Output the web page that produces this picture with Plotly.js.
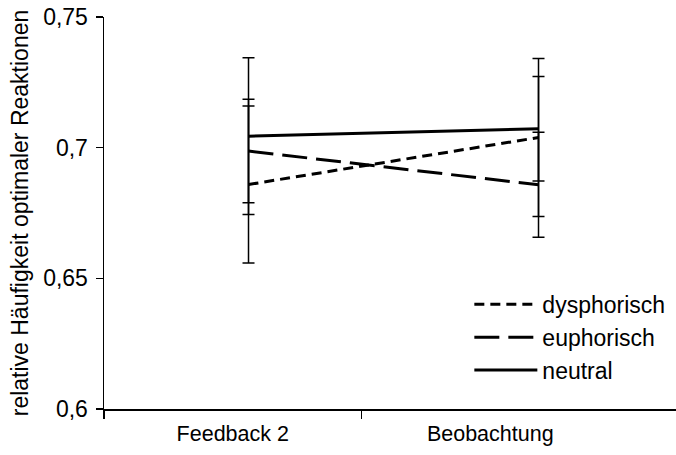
<!DOCTYPE html>
<html>
<head>
<meta charset="utf-8">
<script src="https://cdn.plot.ly/plotly-3.0.1.min.js"></script>
<style>html,body{margin:0;padding:0;background:#fff;}#chart{width:676px;height:455px;}</style>
</head>
<body>
<div id="chart"></div>
<script>
// Data
const categories = ["Feedback 2", "Beobachtung"];
const catIndex = [0, 1];
const seriesNames = ["dysphorisch", "euphorisch", "neutral"];
const dysphorisch = [0.6859, 0.7039];
const dysphorischErr = [0.0300, 0.0302];
const euphorisch = [0.6987, 0.6858];
const euphorischErr = [0.0198, 0.0201];
const neutral = [0.7044, 0.7072];
const neutralErr = [0.0300, 0.0200];
const yTickVals = [0.6, 0.65, 0.7, 0.75];
const yTickText = ["0,6", "0,65", "0,7", "0,75"];

const FONT = "Liberation Sans, Arial, Helvetica, sans-serif";
const FS = 23;

function mk(name, y, err, dash, grp) {
  return {
    type: "scatter", mode: "lines", name: name,
    x: catIndex, y: y, xaxis: "x2", yaxis: "y",
    legendgroup: grp,
    line: {color: "black", width: 3, dash: dash},
    error_y: {type: "data", array: err, visible: true, color: "black", thickness: 1.5, width: 6},
    hoverinfo: "x+y"
  };
}

// category axis carrier (no visible marks) so the label axis is drawn
const axisCarrier = {
  type: "scatter", mode: "markers", x: catIndex, y: [null, null],
  xaxis: "x", yaxis: "y", showlegend: false, hoverinfo: "skip",
  marker: {opacity: 0}
};

const traces = [
  axisCarrier,
  mk(seriesNames[0], dysphorisch, dysphorischErr, "10px,6px", "g1"),
  mk(seriesNames[1], euphorisch, euphorischErr, "25px,9px", "g2"),
  mk(seriesNames[2], neutral, neutralErr, "solid", "g3")
];

const layout = {
  width: 676, height: 455,
  margin: {l: 104, r: 0, t: 17, b: 46, pad: 0},
  paper_bgcolor: "white", plot_bgcolor: "white",
  font: {family: FONT, size: FS, color: "black"},
  showlegend: true,
  legend: {
    x: 0.6387, y: 0.322, xanchor: "left", yanchor: "top",
    bgcolor: "rgba(0,0,0,0)", borderwidth: 0,
    font: {family: FONT, size: FS, color: "black"},
    itemwidth: 63, tracegroupgap: 0, traceorder: "normal"
  },
  xaxis: {
    type: "linear", range: [-0.5, 1.7214],
    tickmode: "array", tickvals: catIndex, ticktext: categories,
    ticks: "", showgrid: false, zeroline: false,
    ticklabelstandoff: 5,
    showline: true, linecolor: "black", linewidth: 1.5,
    tickfont: {family: FONT, size: 21.5, color: "black"},
    minor: {tickmode: "array", tickvals: [-0.5, 0.5], ticks: "outside", ticklen: 8, tickwidth: 1.5, tickcolor: "black", showgrid: false},
    fixedrange: true
  },
  xaxis2: {
    type: "linear", overlaying: "x", anchor: "y", side: "bottom",
    range: [-0.4983, 1.4741],
    showticklabels: false, ticks: "", showgrid: false, zeroline: false, showline: false,
    fixedrange: true
  },
  yaxis: {
    range: [0.6, 0.75],
    tickmode: "array", tickvals: yTickVals, ticktext: yTickText,
    ticks: "outside", ticklen: 7, tickwidth: 1.5, tickcolor: "black",
    ticklabelstandoff: 3,
    showline: true, linecolor: "black", linewidth: 1.5,
    showgrid: false, zeroline: false,
    tickfont: {family: FONT, size: FS, color: "black"},
    title: {text: "relative Häufigkeit optimaler Reaktionen", font: {family: FONT, size: FS, color: "black"}, standoff: 8},
    fixedrange: true
  }
};

Plotly.newPlot("chart", traces, layout, {displayModeBar: false, staticPlot: true});
</script>
</body>
</html>
